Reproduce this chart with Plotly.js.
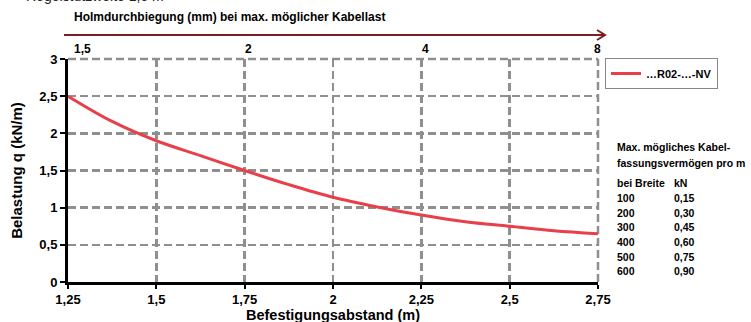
<!DOCTYPE html>
<html>
<head>
<meta charset="utf-8">
<script src="https://cdn.plot.ly/plotly-3.0.1.min.js"></script>
<style>html,body{margin:0;padding:0;background:#fff}#chart{width:751px;height:322px}</style>
</head>
<body>
<div id="chart"></div>
<script>
// Data
const spans = [1.25, 1.375, 1.5, 1.625, 1.75, 1.875, 2.0, 2.125, 2.25, 2.375, 2.5, 2.625, 2.75];
const loads = [2.5, 2.16, 1.9, 1.7, 1.5, 1.31, 1.14, 1.01, 0.9, 0.81, 0.75, 0.69, 0.65];
const seriesName = '…R02-…-NV';
const xTicks = [1.25, 1.5, 1.75, 2.0, 2.25, 2.5, 2.75];
const yTicks = [0, 0.5, 1, 1.5, 2, 2.5, 3];
const topTickVals = [1.25, 1.75, 2.25, 2.75];
const topTickText = ['1,5', '2', '4', '8'];
const tableHeader = ['Max. mögliches Kabel-', 'fassungsvermögen pro m'];
const tableColHeads = ['bei Breite', 'kN'];
const widths = ['100', '200', '300', '400', '500', '600'];
const capacities = ['0,15', '0,30', '0,45', '0,60', '0,75', '0,90'];

const W = 751, H = 322;
const M = {l: 68, r: 153, t: 59, b: 40};
const PH = H - M.t - M.b, PW = W - M.l - M.r;
const px = x => (x - M.l) / PW;
const py = y => (H - M.b - y) / PH;

const F = 'Liberation Sans, Arial, sans-serif';
const FN = 'Liberation Sans Narrow, Liberation Sans, Arial, sans-serif';
const GRID = '#8f8f8f';

const annotations = [];
annotations.push({xref: 'paper', yref: 'paper', x: px(72), y: py(17), xanchor: 'left', yanchor: 'middle',
  text: 'Holmdurchbiegung (mm) bei max. möglicher Kabellast', showarrow: false,
  font: {family: F, size: 12, weight: 'bold', color: '#000'}});
annotations.push({xref: 'paper', yref: 'paper', x: px(24), y: py(-4), xanchor: 'left', yanchor: 'middle',
  text: 'Regelstützweite 1,5 m', showarrow: false, font: {family: F, size: 14, color: '#222'}});

// top axis labels (deflection scale)
topTickText.forEach((t, i) => annotations.push({xref: 'x', yref: 'paper', x: topTickVals[i], y: py(49),
  xanchor: i === 0 ? 'left' : 'center', xshift: i === 0 ? 4 : (i === topTickText.length - 1 ? -1 : 4),
  yanchor: 'middle', text: t, showarrow: false, font: {family: F, size: 12, weight: 'bold', color: '#000'}}));

const tf = {family: F, size: 10.5, weight: 'bold', color: '#000'};
const rowY = [147, 163, 183, 198, 213, 227, 242, 257, 271];
tableHeader.forEach((t, i) => annotations.push({xref: 'paper', yref: 'paper', x: px(615), y: py(rowY[i]),
  xanchor: 'left', yanchor: 'middle', text: t, showarrow: false, font: tf}));
annotations.push({xref: 'paper', yref: 'paper', x: px(615), y: py(rowY[2]), xanchor: 'left', yanchor: 'middle',
  text: tableColHeads[0], showarrow: false, font: tf});
annotations.push({xref: 'paper', yref: 'paper', x: px(672), y: py(rowY[2]), xanchor: 'left', yanchor: 'middle',
  text: tableColHeads[1], showarrow: false, font: tf});
widths.forEach((w, i) => {
  annotations.push({xref: 'paper', yref: 'paper', x: px(615), y: py(rowY[3 + i]), xanchor: 'left', yanchor: 'middle',
    text: w, showarrow: false, font: tf});
  annotations.push({xref: 'paper', yref: 'paper', x: px(672), y: py(rowY[3 + i]), xanchor: 'left', yanchor: 'middle',
    text: capacities[i], showarrow: false, font: tf});
});

// x axis title placed below tick labels
annotations.push({xref: 'paper', yref: 'paper', x: 0.5, y: py(315), xanchor: 'center', yanchor: 'middle',
  text: 'Befestigungsabstand (m)', showarrow: false, font: {family: FN, size: 14.5, weight: 'bold', color: '#000'}});

const arrowColor = '#7a1f1f';
const shapes = [
  {type: 'line', xref: 'paper', yref: 'paper', x0: px(64), x1: px(604), y0: py(35), y1: py(35),
   line: {color: arrowColor, width: 2}},
  {type: 'path', xref: 'paper', yref: 'paper',
   path: `M ${px(597)} ${py(30)} L ${px(605)} ${py(35)} L ${px(597)} ${py(40)}`,
   line: {color: arrowColor, width: 2}},
  // plot-area frame gridlines at top and right edges
  {type: 'line', xref: 'paper', yref: 'paper', x0: 0, x1: 1, y0: 1, y1: 1, layer: 'below',
   line: {color: GRID, width: 2.5, dash: '8px,4px'}},
  {type: 'line', xref: 'paper', yref: 'paper', x0: 1, x1: 1, y0: 0, y1: 1, layer: 'below',
   line: {color: GRID, width: 2.5, dash: '8px,4px'}}
];

const traces = [
  {x: spans, y: loads, type: 'scatter', mode: 'lines', name: seriesName,
   line: {color: '#e8404b', width: 3, shape: 'spline'}}
];

const layout = {
  width: W, height: H,
  margin: M,
  separators: ',.',
  paper_bgcolor: '#fff', plot_bgcolor: '#fff',
  showlegend: true,
  legend: {x: px(605), y: py(58), xanchor: 'left', yanchor: 'top', bordercolor: '#888', borderwidth: 1,
    font: {family: F, size: 11, weight: 'bold', color: '#000'}, bgcolor: '#fff'},
  xaxis: {range: [1.25, 2.75], tickvals: xTicks, showgrid: true, gridcolor: GRID, griddash: '8px,4px', gridwidth: 2.5,
    showline: true, linecolor: '#000', linewidth: 3, ticks: 'outside', ticklen: 4, tickwidth: 2, tickcolor: '#000',
    ticklabelstandoff: -1,
    zeroline: false, tickfont: {family: FN, size: 13, weight: 'bold', color: '#000'}},
  yaxis: {range: [0, 3], tickvals: yTicks, showgrid: true, gridcolor: GRID, griddash: '8px,4px', gridwidth: 2.5,
    showline: true, linecolor: '#000', linewidth: 3, ticks: 'outside', ticklen: 5, tickwidth: 2, tickcolor: '#000',
    zeroline: false, tickfont: {family: F, size: 13, weight: 'bold', color: '#000'},
    title: {text: 'Belastung q (kN/m)', standoff: 14, font: {family: F, size: 15, weight: 'bold', color: '#000'}}},
  annotations: annotations,
  shapes: shapes
};

Plotly.newPlot('chart', traces, layout, {displayModeBar: false, staticPlot: true});
</script>
</body>
</html>
